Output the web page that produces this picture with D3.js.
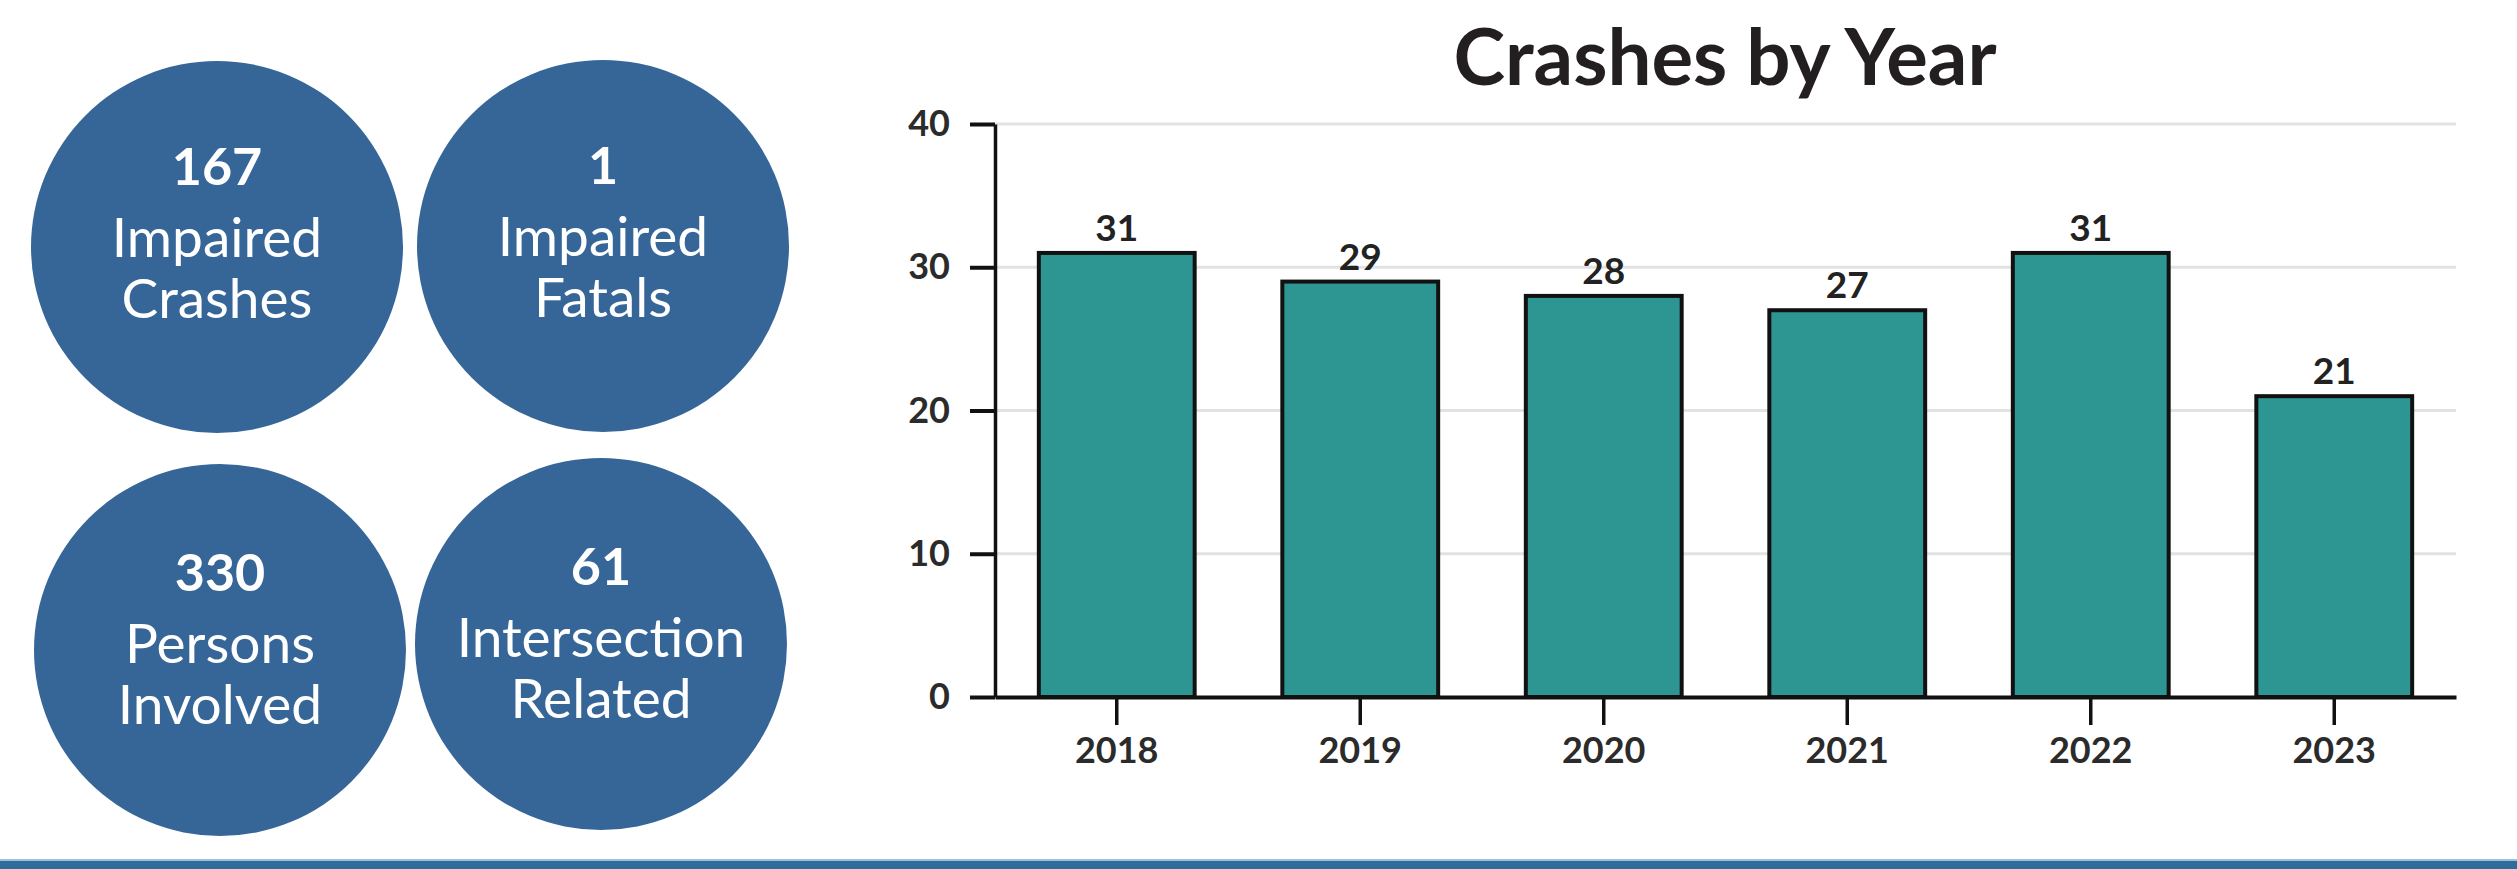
<!DOCTYPE html>
<html>
<head>
<meta charset="utf-8">
<script src="https://cdn.jsdelivr.net/npm/d3@7"></script>
<style>
html,body{margin:0;padding:0;background:#fff;}
svg{display:block;}
</style>
</head>
<body>
<script>
const years = ["2018","2019","2020","2021","2022","2023"];
const crashes = [31, 29, 28, 27, 31, 21];
const yTicks = [0, 10, 20, 30, 40];
const statValues = ["167", "1", "330", "61"];
const statLine1 = ["Impaired", "Impaired", "Persons", "Intersection"];
const statLine2 = ["Crashes", "Fatals", "Involved", "Related"];
const chartTitle = "Crashes by Year";

const W = 2517, H = 869;
const FONT = "Lato, 'Open Sans', sans-serif";
const svg = d3.select("body").append("svg").attr("width", W).attr("height", H);
svg.append("rect").attr("width", W).attr("height", H).attr("fill", "#fff");

// Stat circles
const circlePos = [[217, 247], [603, 246], [220, 650], [601, 644]];
const circleR = 186;
const cg = svg.append("g");
statValues.forEach((v, i) => {
  const [cx, cy] = circlePos[i];
  cg.append("circle").attr("cx", cx).attr("cy", cy).attr("r", circleR).attr("fill", "#366698");
  const off = (i >= 2) ? -59 : -62;
  cg.append("text").attr("x", cx).attr("y", cy + off).attr("text-anchor", "middle")
    .attr("font-family", FONT).attr("font-weight", 700).attr("font-size", 52).attr("fill", "#fff").text(v);
  cg.append("text").attr("x", cx).attr("y", cy + off + 72).attr("text-anchor", "middle")
    .attr("font-family", FONT).attr("font-weight", 400).attr("font-size", 55).attr("fill", "#fff").text(statLine1[i]);
  cg.append("text").attr("x", cx).attr("y", cy + off + 133).attr("text-anchor", "middle")
    .attr("font-family", FONT).attr("font-weight", 400).attr("font-size", 55).attr("fill", "#fff").text(statLine2[i]);
});

// Bar chart
const x = d3.scaleBand().domain(years).range([995, 2456]).paddingInner(0.36).paddingOuter(0.18);
const y = d3.scaleLinear().domain([0, 40]).range([697, 124]);

svg.append("text").attr("x", 1725).attr("y", 85).attr("text-anchor", "middle")
  .attr("font-family", FONT).attr("font-weight", 700).attr("font-size", 78).attr("fill", "#231f20")
  .text(chartTitle);

// gridlines
svg.append("g").selectAll("line").data(yTicks.filter(d => d > 0)).join("line")
  .attr("x1", 995).attr("x2", 2456).attr("y1", d => y(d)).attr("y2", d => y(d))
  .attr("stroke", "#e2e2e2").attr("stroke-width", 3);

// bars
svg.append("g").selectAll("rect").data(crashes).join("rect")
  .attr("x", (d, i) => x(years[i])).attr("width", x.bandwidth())
  .attr("y", d => y(d)).attr("height", d => y(0) - y(d))
  .attr("fill", "#2d9693").attr("stroke", "#111").attr("stroke-width", 4);

// value labels
svg.append("g").selectAll("text").data(crashes).join("text")
  .attr("x", (d, i) => x(years[i]) + x.bandwidth() / 2).attr("y", d => y(d) - 12)
  .attr("text-anchor", "middle").attr("font-family", FONT).attr("font-weight", 700)
  .attr("font-size", 37).attr("fill", "#222").text(d => d);

// y axis
const yAxis = svg.append("g").attr("transform", "translate(995,0)")
  .call(d3.axisLeft(y).tickValues(yTicks).tickSize(25).tickSizeOuter(0).tickPadding(20));
yAxis.select(".domain").attr("stroke", "#111").attr("stroke-width", 3.5);
yAxis.selectAll(".tick line").attr("stroke", "#111").attr("stroke-width", 4);
yAxis.selectAll(".tick text").attr("font-family", FONT).attr("font-weight", 700)
  .attr("font-size", 36).attr("fill", "#2b2b2b");

// x axis
const xAxis = svg.append("g").attr("transform", "translate(0,697)")
  .call(d3.axisBottom(x).tickSize(28).tickSizeOuter(0).tickPadding(12));
xAxis.select(".domain").attr("stroke", "#111").attr("stroke-width", 4);
xAxis.selectAll(".tick line").attr("stroke", "#111").attr("stroke-width", 3.5);
xAxis.selectAll(".tick text").attr("font-family", FONT).attr("font-weight", 700)
  .attr("font-size", 36).attr("fill", "#2b2b2b");

// bottom band
svg.append("rect").attr("x", 0).attr("y", 859).attr("width", W).attr("height", 2).attr("fill", "#9ec0d8");
svg.append("rect").attr("x", 0).attr("y", 861).attr("width", W).attr("height", 8).attr("fill", "#2f6c9b");
</script>
</body>
</html>
